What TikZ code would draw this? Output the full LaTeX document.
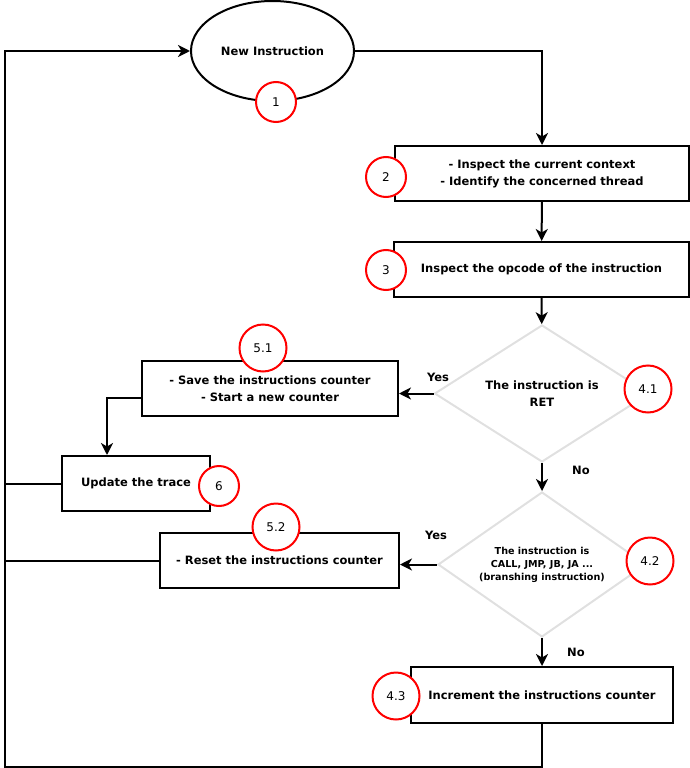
\documentclass[tikz,border=0pt]{standalone}
\usepackage{fontspec}
\setmainfont{DejaVu Sans}
\usetikzlibrary{shapes.geometric,arrows.meta}

\begin{document}
\begin{tikzpicture}[x=1pt, y=-1pt, line width=2pt,
    >={Stealth[length=12pt,width=12pt,inset=3.5pt]},
    stepbox/.style={draw, rectangle, inner sep=0pt, minimum height=55pt, align=center, font=\bfseries\fontsize{11.5}{17}\selectfont},
    test/.style={draw=black!12, diamond, inner sep=0pt, align=center, font=\bfseries\fontsize{11.5}{17}\selectfont},
    tag/.style={draw=red, line width=2pt, circle, fill=white, minimum size=40pt, inner sep=0pt, font=\fontsize{12}{14}\selectfont},
    bigtag/.style={tag, minimum size=47pt},
    answer/.style={font=\bfseries\fontsize{11.5}{13}\selectfont}]
    \useasboundingbox (0, 0) rectangle (690, 768);

    \node[draw, ellipse, minimum width=163pt, minimum height=100pt, font=\bfseries\fontsize{11.5}{13}\selectfont] at (272.5, 51) (start) {New Instruction};
    \node[stepbox, minimum width=294pt] at (542, 173.5) (ctx) {- Inspect the current context\\- Identify the concerned thread};
    \node[stepbox, minimum width=295pt] at (541.5, 269.5) (opcode) {Inspect the opcode of the instruction};
    \node[test, aspect=1.57, minimum width=215pt, minimum height=137pt] at (542, 393.5) (ret) {The instruction is\\RET};
    \node[test, aspect=1.43, minimum width=208pt, minimum height=145pt, font=\bfseries\fontsize{9.6}{13}\selectfont] at (542, 564.5) (branch) {The instruction is\\CALL, JMP, JB, JA ...\\(branshing instruction)};
    \node[stepbox, minimum width=256pt] at (270, 388.5) (save) {- Save the instructions counter\\- Start a new counter};
    \node[stepbox, minimum width=148pt] at (136, 483.5) (trace) {Update the trace};
    \node[stepbox, minimum width=239pt] at (279.5, 560.5) (reset) {- Reset the instructions counter};
    \node[stepbox, minimum width=262pt, minimum height=56pt] at (542, 695) (count) {Increment the instructions counter};

    \coordinate (loopbl) at (5, 767);
    \coordinate (looptl) at (5, 51);

    \draw[->] (start.east) -| (ctx.north);
    \draw[->] (ctx) -- (opcode);
    \draw[->] (opcode) -- (ret);
    \draw[->] (ret.west) -- (ret.west -| save.east);
    \draw[->] ([yshift=-9pt]save.west) -| ([xshift=-29pt]trace.north);
    \draw[->] (ret.south) -- (branch.north);
    \draw[->] (branch.west) -- (branch.west -| reset.east);
    \draw[->] (branch.south) -- (count.north);
    \draw[->] (count.south) |- (loopbl) -- (looptl) -- (start.west);
    \draw (trace.west) -- (trace.west -| looptl);
    \draw (reset.west) -- (reset.west -| looptl);

    \node[answer] at (438, 377) (yes1) {Yes};
    \node[answer] at (436, 535) (yes2) {Yes};
    \node[answer] at (581, 470) (no1) {No};
    \node[answer] at (576, 652) (no2) {No};

    \node[tag] at (276, 102) (t1) {1};
    \node[tag] at (386, 177) (t2) {2};
    \node[tag] at (386, 270) (t3) {3};
    \node[bigtag] at (648, 389) (t41) {4.1};
    \node[bigtag] at (650, 561) (t42) {4.2};
    \node[bigtag] at (396, 696) (t43) {4.3};
    \node[bigtag] at (263, 348) (t51) {5.1};
    \node[bigtag] at (276, 527) (t52) {5.2};
    \node[tag] at (219, 486) (t6) {6};
\end{tikzpicture}
\end{document}
